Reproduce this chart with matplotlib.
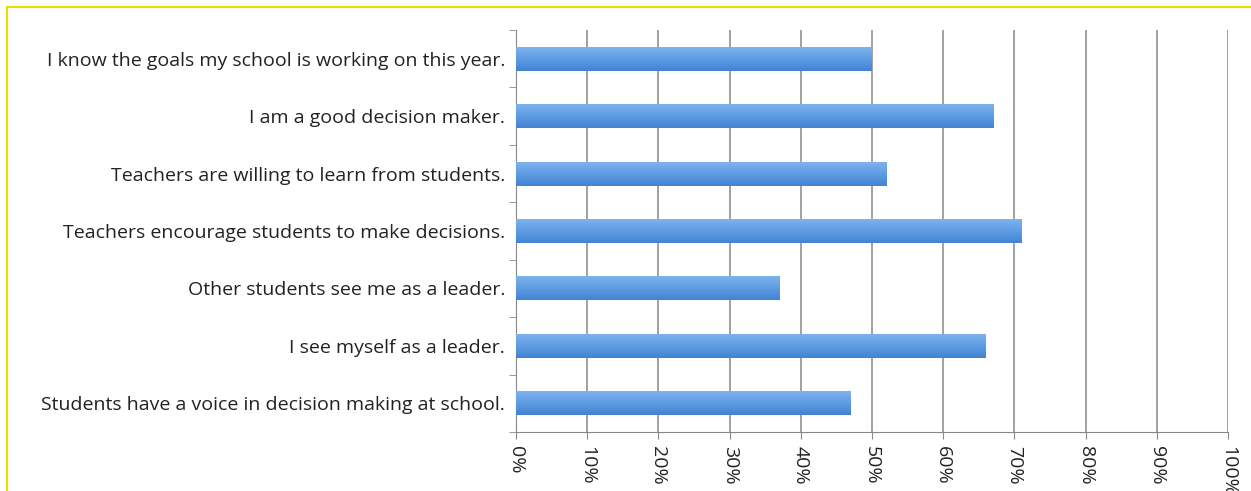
import matplotlib.pyplot as plt
import numpy as np
from matplotlib.patches import Rectangle
from matplotlib.colors import LinearSegmentedColormap

questions = [
    "I know the goals my school is working on this year.",
    "I am a good decision maker.",
    "Teachers are willing to learn from students.",
    "Teachers encourage students to make decisions.",
    "Other students see me as a leader.",
    "I see myself as a leader.",
    "Students have a voice in decision making at school.",
]
pourcentages = [50, 67, 52, 71, 37, 66, 47]
graduations = list(range(0, 101, 10))

plt.rcParams['font.family'] = ['Open Sans', 'DejaVu Sans']

fig = plt.figure(figsize=(12.51, 4.91), dpi=100)
ax = fig.add_axes([0.4125, 0.1202, 0.5691, 0.8187])

# bordure jaune du cadre
fig.patches.append(Rectangle((0.0056, -0.05), 1.2, 1.036, transform=fig.transFigure,
                             fill=False, edgecolor='#e8e000', linewidth=1.5))

y = list(range(len(questions)))[::-1]
barres = ax.barh(y, pourcentages, height=0.42, color='#5e9de2', edgecolor='none', zorder=3)

# degrade bleu dans chaque barre (clair en haut, fonce en bas)
degrade = LinearSegmentedColormap.from_list('bleu', ['#4483d2', '#5f9de4', '#80b4ee'])
grad = np.linspace(0, 1, 64).reshape(-1, 1)
for b in barres:
    x0, y0 = b.get_x(), b.get_y()
    im = ax.imshow(grad, cmap=degrade, origin='lower', aspect='auto', zorder=4,
                   extent=(x0, x0 + b.get_width(), y0, y0 + b.get_height()))
    im.set_clip_path(b)

ax.set_xlim(0, 100)
ax.set_ylim(-0.5, len(questions) - 0.5)
ax.set_xticks(graduations)
ax.set_xticklabels([f"{g}%" for g in graduations], rotation=270, fontsize=14, color='#222222')
ax.set_yticks(y)
ax.set_yticklabels(questions, fontsize=14, color='#222222')
ax.tick_params(axis='y', length=0, pad=8)
ax.set_yticks([i - 0.5 for i in range(len(questions) + 1)], minor=True)
ax.tick_params(axis='y', which='minor', length=5, color='#888888')
ax.tick_params(axis='x', length=5, color='#888888', pad=5)

ax.grid(axis='x', color='#888888', linewidth=1.1, zorder=0)
for side in ['top', 'right']:
    ax.spines[side].set_visible(False)
for side in ['left', 'bottom']:
    ax.spines[side].set_color('#888888')

fig.savefig('out.png', dpi=100)
